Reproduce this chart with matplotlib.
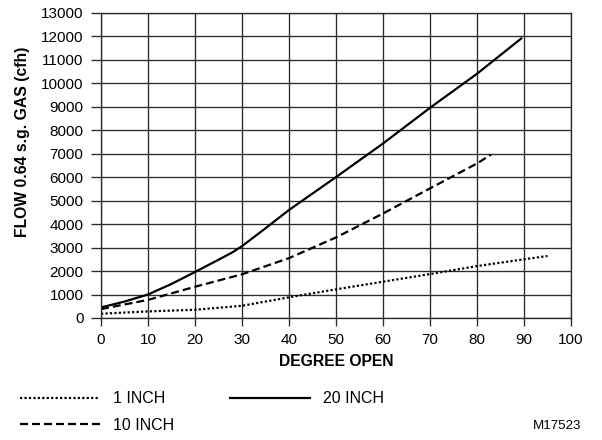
import matplotlib
matplotlib.use('Agg')
import matplotlib.pyplot as plt

plt.rcParams['font.family'] = ['Liberation Sans', 'DejaVu Sans']

# degree open vs flow (cfh)
deg_1in = [0, 10, 20, 30, 40, 50, 60, 70, 80, 90, 95]
flow_1in = [180, 280, 350, 520, 880, 1220, 1545, 1870, 2210, 2500, 2640]

deg_10in = [0, 10, 20, 30, 40, 50, 60, 70, 80, 83]
flow_10in = [380, 770, 1330, 1860, 2550, 3430, 4450, 5520, 6580, 6960]

deg_20in = [0, 5, 10, 15, 20, 25, 28, 30, 35, 40, 50, 60, 70, 80, 89.4]
flow_20in = [450, 700, 1000, 1450, 1960, 2480, 2800, 3060, 3820, 4600, 6000, 7430, 8950, 10400, 11900]

x_ticks = list(range(0, 101, 10))
y_ticks = list(range(0, 13001, 1000))

fig = plt.figure(figsize=(6.02, 4.4), dpi=100)
ax = fig.add_axes([0.1678, 0.2773, 0.7807, 0.6938])

lw = 1.6
ax.plot(deg_1in, flow_1in, color='black', lw=lw, linestyle=(0, (1, 1)), label='1 INCH')
ax.plot(deg_10in, flow_10in, color='black', lw=lw, linestyle=(0, (3.6, 1.8)), label='10 INCH')
ax.plot(deg_20in, flow_20in, color='black', lw=lw, linestyle='-', label='20 INCH')

ax.set_xlim(0, 100)
ax.set_ylim(0, 13000)
ax.set_xticks(x_ticks)
ax.set_yticks(y_ticks)
ax.grid(True, color='#2a2a2a', lw=0.95)
ax.set_axisbelow(True)
for s in ax.spines.values():
    s.set_color('#2a2a2a')
    s.set_linewidth(0.95)
ax.tick_params(axis='x', length=6, width=0.95, color='#2a2a2a', labelsize=11, pad=5)
ax.tick_params(axis='y', length=7.2, width=0.95, color='#2a2a2a', labelsize=11, pad=5.5)

ax.set_xlabel('DEGREE OPEN', fontsize=11.3, fontweight='bold')
ax.xaxis.set_label_coords(0.5, -0.144)
ax.xaxis.label.set_verticalalignment('center')
ax.set_ylabel('FLOW 0.64 s.g. GAS (cfh)', fontsize=11.3, fontweight='bold')
ax.yaxis.set_label_coords(-0.167, 0.577)
ax.yaxis.label.set_verticalalignment('center')

h, l = ax.get_legend_handles_labels()
fig.legend(h, l, ncol=2, loc='upper left', bbox_to_anchor=(0.033, 0.111),
           frameon=False, fontsize=11.5, handlelength=5.0, handletextpad=0.8,
           columnspacing=3.55, labelspacing=0.73, borderpad=0, borderaxespad=0)

fig.text(0.9663, 0.0318, 'M17523', fontsize=9.6, ha='right', va='center')

fig.savefig('out.png', dpi=100)
